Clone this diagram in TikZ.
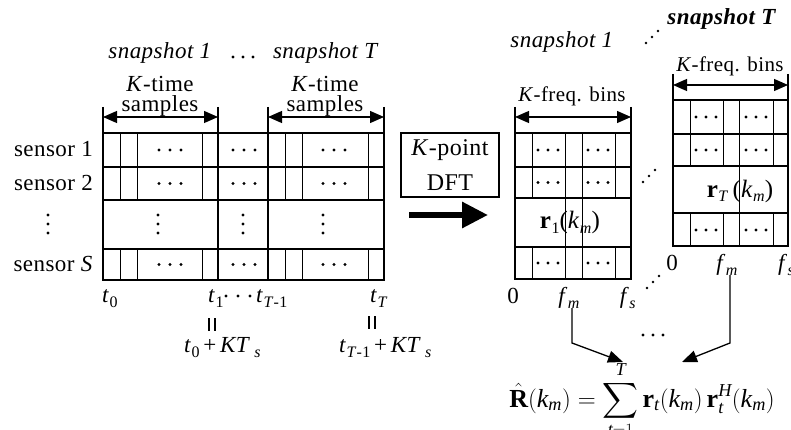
\documentclass[tikz,border=0pt]{standalone}
\usepackage{fontspec}
\usepackage{amsmath}
\setmainfont{Liberation Serif}[LetterSpace=2]
\usetikzlibrary{arrows.meta}
\newcommand{\vi}[1]{\text{\itshape #1}}
\newcommand{\vb}[1]{\text{\bfseries #1}}
\newcommand{\sbs}[1]{\raisebox{-5pt}{\fontsize{16}{16}\selectfont #1}}
\newcommand{\hdotsat}[3]{\fill (#1-#3,#2) circle (1.6) (#1,#2) circle (1.6) (#1+#3,#2) circle (1.6);}
\newcommand{\vdotsat}[2]{\fill (#1,#2-9) circle (1.6) (#1,#2) circle (1.6) (#1,#2+9) circle (1.6);}
\newcommand{\ddotsat}[2]{\fill (#1-6,#2+6) circle (1.3) (#1,#2) circle (1.3) (#1+6,#2-6) circle (1.3);}
\newcommand{\eqvat}[2]{\draw[line width=1.2pt] (#1-3,#2-7) -- (#1-3,#2+6) (#1+3,#2-7) -- (#1+3,#2+6);}
\begin{document}
\begin{tikzpicture}[x=1pt,y=-1pt,
  every node/.style={inner sep=0pt},
  lbl/.style={font=\fontsize{23}{27}\selectfont, anchor=base},
  thickln/.style={line width=1.8pt},
  rowln/.style={line width=1.3pt},
  thinln/.style={line width=0.8pt},
  dimarr/.style={line width=1.2pt, {Triangle[length=14pt,width=12pt]}-{Triangle[length=14pt,width=12pt]}},
  tickln/.style={line width=1.2pt},
  conn/.style={line width=1.3pt, -{Triangle[length=15pt,width=12pt]}},
]
\useasboundingbox (0,0) rectangle (791,430);

% ---------------- left: time samples ----------------
\node[lbl] (snap1) at (160,59) {\textit{snapshot 1}};
\hdotsat{243}{57}{10}
\node[lbl] (snapT) at (326,59) {\textit{snapshot T}};

\node[lbl] (kt1) at (160,92) {\textit{K}-time};
\node[lbl] (sa1) at (160,112) {samples};
\node[lbl] (kt2) at (325,92) {\textit{K}-time};
\node[lbl] (sa2) at (325,112) {samples};

\coordinate (d1a) at (103,117); \coordinate (d1b) at (218,117);
\coordinate (d2a) at (268,117); \coordinate (d2b) at (384,117);
\draw[tickln] (103,107) -- (103,133) (218,107) -- (218,133) (268,107) -- (268,133) (384,107) -- (384,133);
\draw[dimarr] (d1a) -- (d1b);
\draw[dimarr] (d2a) -- (d2b);

\draw[rowln] (103,167) -- (384,167) (103,200) -- (384,200) (103,249) -- (384,249);
\foreach \x in {120,137,202,285,302,368}
  \draw[thinln] (\x,133) -- (\x,200) (\x,249) -- (\x,280);
\draw[thickln] (218,133) -- (218,280) (268,133) -- (268,280);
\draw[thickln] (103,133) rectangle (384,280);

\foreach \y in {150,183.5,264.5} {
  \hdotsat{170}{\y}{11}
  \hdotsat{244}{\y}{11}
  \hdotsat{334}{\y}{11}
}
\vdotsat{158}{224}
\vdotsat{243}{224}
\vdotsat{323}{224}

\node[lbl, anchor=base east] (s1) at (93,157) {sensor 1};
\node[lbl, anchor=base east] (s2) at (93,191) {sensor 2};
\vdotsat{48}{224}
\node[lbl, anchor=base east] (sS) at (93,271) {sensor \textit{S}};

\node[lbl, anchor=base west] (t0) at (102,302) {\textit{t}\sbs{0}};
\node[lbl, anchor=base west] (t1) at (208,302) {\textit{t}\sbs{1}};
\hdotsat{238}{296}{12}
\node[lbl, anchor=base west] (tT1) at (256,302) {\textit{t}\sbs{\textit{T}-1}};
\node[lbl, anchor=base west] (tT) at (370,302) {\textit{t}\sbs{\textit{T}}};
\eqvat{212}{325}
\eqvat{372}{323}
\node[lbl, anchor=base west] (k1) at (184,352) {\textit{t}\sbs{0}\,+\,\textit{KT}\,\sbs{\textit{s}}};
\node[lbl, anchor=base west] (k2) at (339,352) {\textit{t}\sbs{\textit{T}-1}\,+\,\textit{KT}\,\sbs{\textit{s}}};

% ---------------- DFT ----------------
\node[draw, line width=1.4pt, minimum width=98pt, minimum height=64pt,
      font=\fontsize{24}{35}\selectfont, align=center] (dft) at (450,165) {\textit{K}-point\\DFT};
\coordinate (ba) at (409,215); \coordinate (bb) at (488,215);
\draw[line width=6pt, -{Triangle[length=26pt,width=25pt]}] (ba) -- (bb);

% ---------------- right: snapshot 1 ----------------
\node[lbl] (rsnap1) at (562,48) {\textit{snapshot 1}};
\node[lbl] (rsnapT) at (722,25) {\textbf{\textit{snapshot T}}};
\ddotsat{652}{37}

\node[lbl, font=\fontsize{21}{24}\selectfont] (kf1) at (572,102) {\textit{K}-freq. bins};
\coordinate (f1a) at (515,117); \coordinate (f1b) at (631,117);
\draw[tickln] (515,107) -- (515,133) (631,107) -- (631,133);
\draw[dimarr] (f1a) -- (f1b);

\draw[rowln] (515,167) -- (631,167) (515,198) -- (631,198) (515,247) -- (631,247);
\foreach \x in {532,565,582,615}
  \draw[thinln] (\x,133) -- (\x,198) (\x,247) -- (\x,279);
\draw[thinln] (565,198) -- (565,247) (582,198) -- (582,247);
\draw[thickln] (515,133) rectangle (631,279);
\foreach \y in {150,182.5,263} {
  \hdotsat{548}{\y}{10}
  \hdotsat{598}{\y}{10}
}
\node[font=\fontsize{25}{28}\selectfont, anchor=base] (r1) at (570,229)
  {\textbf{r}\sbs{1}(\textit{k}\sbs{\textit{m}})};

\node[lbl] (z1) at (513,303) {0};
\node[lbl] (fm1) at (569,303) {\textit{f}\sbs{\textit{m}}};
\node[lbl] (fs1) at (628,303) {\textit{f}\sbs{\textit{s}}};
\ddotsat{649}{176}
\ddotsat{653}{282}

% ---------------- right: snapshot T ----------------
\node[lbl, font=\fontsize{21}{24}\selectfont] (kfT) at (730,72) {\textit{K}-freq. bins};
\coordinate (fTa) at (673,85); \coordinate (fTb) at (788,85);
\draw[tickln] (673,74) -- (673,100) (788,74) -- (788,100);
\draw[dimarr] (fTa) -- (fTb);

\draw[rowln] (673,134) -- (788,134) (673,166) -- (788,166) (673,213) -- (788,213);
\foreach \x in {690,723,739,773}
  \draw[thinln] (\x,100) -- (\x,166) (\x,213) -- (\x,246);
\draw[thinln] (739,166) -- (739,213);
\draw[thickln] (673,100) rectangle (788,246);
\foreach \y in {117,150,230} {
  \hdotsat{706}{\y}{10}
  \hdotsat{756}{\y}{10}
}
\node[font=\fontsize{25}{28}\selectfont, anchor=base] (rT) at (740,197)
  {\textbf{r}\sbs{\textit{T}}\,(\textit{k}\sbs{\textit{m}})};

\node[lbl] (z2) at (672,270) {0};
\node[lbl] (fm2) at (727,270) {\textit{f}\sbs{\textit{m}}};
\node[lbl, anchor=base west] (fs2) at (778,270) {\textit{f}\sbs{\textit{s}}};

% ---------------- formula and connectors ----------------
\hdotsat{653}{335}{10}
\node[font=\fontsize{26}{30}\selectfont, anchor=base] (Rhat) at (642,407)
  {$\hat{\vb{R}}(\vi{k}_{\vi{m}}) = \displaystyle\sum_{\vi{t}=1}^{\vi{T}} \vb{r}_{\vi{t}}(\vi{k}_{\vi{m}})\,\vb{r}_{\vi{t}}^{\vi{H}}(\vi{k}_{\vi{m}})$};
\coordinate (c1) at (572,343); \coordinate (tip1) at (623,362);
\coordinate (c2) at (730,343); \coordinate (tip2) at (682,362);
\draw[conn] (c1 |- fm1.south) -- (c1) -- (tip1);
\draw[conn] (c2 |- fm2.south) -- (c2) -- (tip2);
\end{tikzpicture}
\end{document}
